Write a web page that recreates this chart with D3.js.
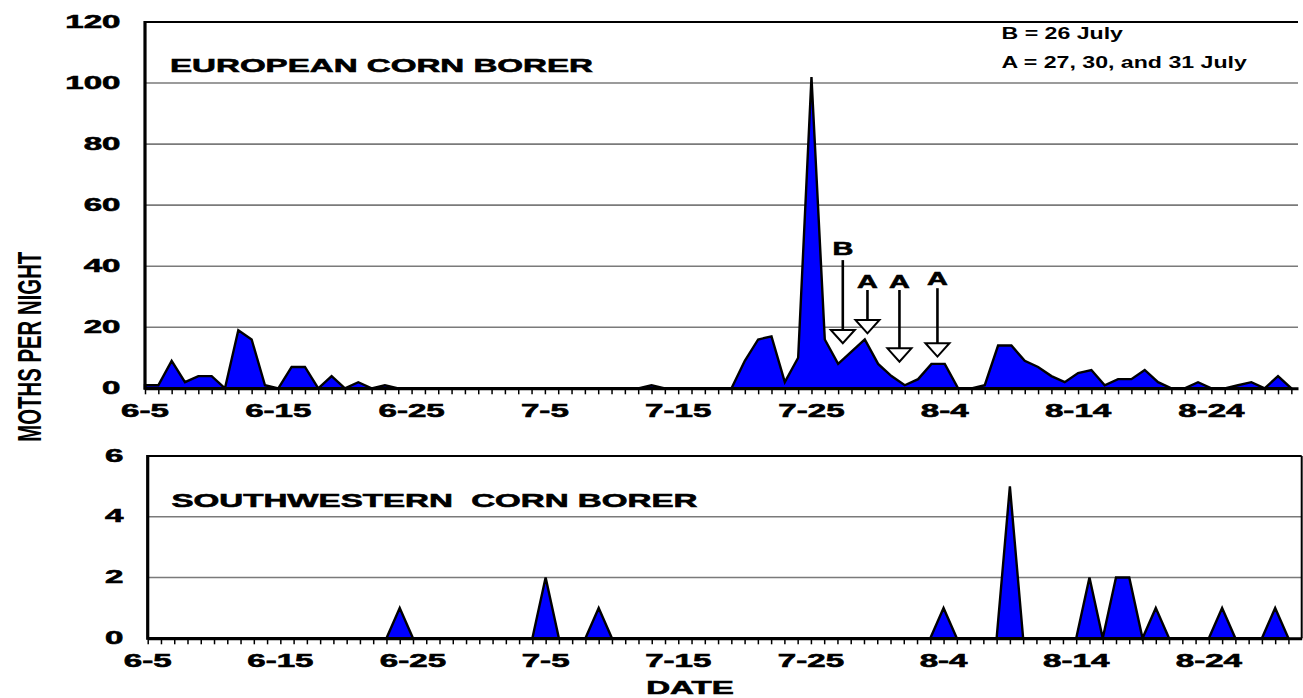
<!DOCTYPE html>
<html>
<head>
<meta charset="utf-8">
<script src="https://cdn.jsdelivr.net/npm/d3@7"></script>
<style>
  html, body { margin: 0; padding: 0; background: #fff; }
  svg { display: block; }
  text { font-family: "Liberation Sans", Arial, sans-serif; font-weight: bold; fill: #000; }
  text.heavy { stroke: #000; stroke-width: 0.6px; paint-order: stroke; }
</style>
</head>
<body>
<svg id="chart" width="1303" height="698"></svg>
<script>
// ---------------- DATA ----------------
// day index 0 = 6-5 (June 5) ... 86 = 8-30
const days = d3.range(0, 87);
const ecbValues = [
  1, 1, 9, 2, 4, 4, 0, 19, 16, 1,
  0, 7, 7, 0, 4, 0, 2, 0, 1, 0,
  0, 0, 0, 0, 0, 0, 0, 0, 0, 0,
  0, 0, 0, 0, 0, 0, 0, 0, 1, 0,
  0, 0, 0, 0, 0, 9, 16, 17, 2, 10,
  102, 16, 8, 12, 16, 8, 4, 1, 3, 8,
  8, 0, 0, 1, 14, 14, 9, 7, 4, 2,
  5, 6, 1, 3, 3, 6, 2, 0, 0, 2,
  0, 0, 1, 2, 0, 4, 0
];
const swcbValues = [
  0, 0, 0, 0, 0, 0, 0, 0, 0, 0,
  0, 0, 0, 0, 0, 0, 0, 0, 0, 1,
  0, 0, 0, 0, 0, 0, 0, 0, 0, 0,
  2, 0, 0, 0, 1, 0, 0, 0, 0, 0,
  0, 0, 0, 0, 0, 0, 0, 0, 0, 0,
  0, 0, 0, 0, 0, 0, 0, 0, 0, 0,
  1, 0, 0, 0, 0, 5, 0, 0, 0, 0,
  0, 2, 0, 2, 2, 0, 1, 0, 0, 0,
  0, 1, 0, 0, 0, 1, 0
];
const dateTickDays = [0, 10, 20, 30, 40, 50, 60, 70, 80];
const dateTickLabels = ["6-5", "6-15", "6-25", "7-5", "7-15", "7-25", "8-4", "8-14", "8-24"];
const ecbYTicks = [0, 20, 40, 60, 80, 100, 120];
const swcbYTicks = [0, 2, 4, 6];
const ecbTitle = "EUROPEAN CORN BORER";
const swcbTitle = "SOUTHWESTERN\u00A0\u00A0CORN BORER";
const legendLines = ["B = 26 July", "A = 27, 30, and 31 July"];
// spray annotations on the ECB panel (day position, values in moths/night)
const arrowLabels = ["B", "A", "A", "A"];
const arrowDays = [52.35, 54.2, 56.6, 59.45];
const arrowTopVals = [42, 32.2, 32.2, 32.8];
const arrowBaseVals = [19.1, 22.4, 13.1, 14.75];
const arrowTipVals = [14.75, 18, 8.7, 10.4];
const arrowTextVals = [45.9, 35, 35, 36];
const yAxisTitle = "MOTHS PER NIGHT";
const xAxisTitle = "DATE";

// ---------------- LAYOUT ----------------
const svg = d3.select("#chart");
const SX = 1.78;      // horizontal stretch of the original typography
const FS = 18.6;

const xTop = d3.scaleLinear().domain([0, 86.5]).range([145, 1298]);
const yTop = d3.scaleLinear().domain([0, 120]).range([388.3, 22]);
const xBot = d3.scaleLinear().domain([0, 87]).range([147.7, 1301.7]);
const yBot = d3.scaleLinear().domain([0, 6]).range([638.3, 456]);

function stretchedText(g, str, x, y, anchor, size, sx, cls) {
  return g.append("text")
    .attr("class", cls || null)
    .attr("transform", `translate(${x},${y}) scale(${sx},1)`)
    .attr("text-anchor", anchor)
    .style("font-size", size + "px")
    .text(str);
}

function panel(x, y, values, yTicks, opts) {
  const g = svg.append("g");
  const [x0, x1] = x.range();
  const yMax = y.domain()[1];

  // gridlines
  g.selectAll("line.grid")
    .data(yTicks.filter(v => v > 0 && v < yMax))
    .join("line")
    .attr("x1", x0).attr("x2", x1)
    .attr("y1", d => y(d)).attr("y2", d => y(d))
    .attr("stroke", "#7a7a7a").attr("stroke-width", 1.6);

  // area
  const area = d3.area()
    .x((d, i) => x(days[i]))
    .y0(y(0))
    .y1(d => y(d));
  g.append("path")
    .datum(values)
    .attr("d", area)
    .attr("fill", "#0000ff")
    .attr("stroke", "#000")
    .attr("stroke-width", 2.4)
    .attr("stroke-linejoin", "miter");

  // frame: top border (and right border if requested)
  g.append("line")
    .attr("x1", x0).attr("x2", x1)
    .attr("y1", y(yMax)).attr("y2", y(yMax))
    .attr("stroke", "#000").attr("stroke-width", 2);
  if (opts.rightBorder) {
    g.append("line")
      .attr("x1", x1).attr("x2", x1)
      .attr("y1", y(yMax)).attr("y2", y(0))
      .attr("stroke", "#000").attr("stroke-width", 2);
  }

  // x axis with a tick every day
  const xAxis = d3.axisBottom(x).tickValues(days).tickSize(6).tickSizeOuter(0).tickFormat("");
  const ax = g.append("g").attr("transform", `translate(0,${y(0)})`).call(xAxis);
  ax.select(".domain").attr("stroke", "#000").attr("stroke-width", 3);
  ax.selectAll(".tick line").attr("stroke", "#000").attr("stroke-width", 1.5);

  // left axis line
  g.append("line")
    .attr("x1", x0).attr("x2", x0)
    .attr("y1", y(yMax) - 1).attr("y2", y(0) + 1.5)
    .attr("stroke", "#000").attr("stroke-width", 3.2);

  // date labels
  dateTickDays.forEach((d, i) => {
    stretchedText(g, dateTickLabels[i], x(d), y(0) + opts.dateDy, "middle", FS, SX, "heavy");
  });
  // value labels
  yTicks.forEach(v => {
    stretchedText(g, String(v), opts.yLabelRight, y(v) + 5.5, "end", FS, SX, "heavy");
  });
  // panel title
  stretchedText(g, opts.title, opts.titleX, opts.titleY, "start", FS, SX, "heavy");
  return g;
}

panel(xTop, yTop, ecbValues, ecbYTicks,
  { rightBorder: false, dateDy: 28.4, yLabelRight: 120.5, title: ecbTitle, titleX: 170, titleY: 71.7 });
panel(xBot, yBot, swcbValues, swcbYTicks,
  { rightBorder: true, dateDy: 28.4, yLabelRight: 123.5, title: swcbTitle, titleX: 171.5, titleY: 507.3 });

// annotations
const ann = svg.append("g");
arrowLabels.forEach((lab, i) => {
  const cx = xTop(arrowDays[i]);
  const yTopA = yTop(arrowTopVals[i]);
  const yBase = yTop(arrowBaseVals[i]);
  const yTip = yTop(arrowTipVals[i]);
  ann.append("line")
    .attr("x1", cx).attr("x2", cx)
    .attr("y1", yTopA).attr("y2", yBase)
    .attr("stroke", "#000").attr("stroke-width", 2.6);
  ann.append("path")
    .attr("d", `M${cx - 12},${yBase} L${cx + 12},${yBase} L${cx},${yTip} Z`)
    .attr("fill", "#fff").attr("stroke", "#000").attr("stroke-width", 2);
  stretchedText(ann, lab, cx, yTop(arrowTextVals[i]) + 6.6, "middle", FS, 1.55, "heavy");
});

// legend
stretchedText(svg, legendLines[0], 1001.5, 39, "start", 16.3, 1.42);
stretchedText(svg, legendLines[1], 1001.5, 68.3, "start", 16.3, 1.42);

// axis titles
svg.append("text")
  .attr("transform", "translate(40.5,346.7) rotate(-90)")
  .attr("text-anchor", "middle")
  .attr("textLength", 190)
  .attr("lengthAdjust", "spacingAndGlyphs")
  .style("font-size", "34px")
  .text(yAxisTitle);
stretchedText(svg, xAxisTitle, 690, 693.5, "middle", FS, SX, "heavy");
</script>
</body>
</html>
